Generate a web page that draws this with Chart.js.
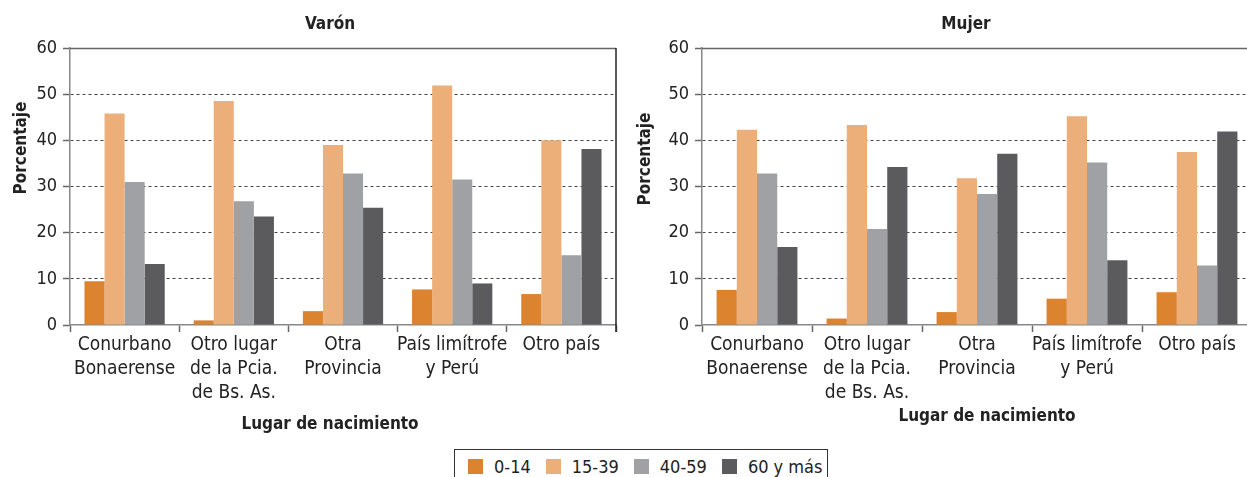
<!DOCTYPE html>
<html lang="es">
<head>
  <meta charset="UTF-8">
  <title>Lugar de nacimiento por edad</title>
  <script src="https://cdn.jsdelivr.net/npm/chart.js"></script>
  <style>
    html, body { margin: 0; padding: 0; background: #fff; overflow: hidden; width: 1247px; height: 477px; }
    #left { position: absolute; left: 0; top: 0; }
    #right { position: absolute; left: 620px; top: 0; }
    #legend {
      position: absolute; left: 454px; top: 449px; width: 374px; height: 34px;
      border: 1.5px solid #333; box-sizing: border-box;
      font-family: 'DejaVu Sans Condensed', sans-serif; font-size: 18px; color: #222;
      display: flex; align-items: center; padding-left: 13px; white-space: nowrap;
    }
    .item { display: flex; align-items: center; margin-right: 15px; flex-shrink: 0; }
    .sw { width: 15px; height: 15px; margin-right: 11px; flex-shrink: 0; }
  </style>
</head>
<body>
  <canvas id="left" width="640" height="440"></canvas>
  <canvas id="right" width="660" height="440"></canvas>
  <div id="legend"></div>

  <script>
    const categories = [
      ['Conurbano', 'Bonaerense'],
      ['Otro lugar', 'de la Pcia.', 'de Bs. As.'],
      ['Otra', 'Provincia'],
      ['País limítrofe', 'y Perú'],
      ['Otro país']
    ];
    const ageGroups = ['0-14', '15-39', '40-59', '60 y más'];
    const colors = ['#dc832f', '#ecaf79', '#a0a1a4', '#5b5b5d'];
    const yTicks = [0, 10, 20, 30, 40, 50, 60];

    // Varón
    const varon_0_14  = [9.5, 1.0, 3.0, 7.7, 6.7];
    const varon_15_39 = [45.8, 48.5, 39.0, 51.9, 40.0];
    const varon_40_59 = [31.0, 26.8, 32.8, 31.5, 15.1];
    const varon_60    = [13.2, 23.5, 25.4, 9.0, 38.1];

    // Mujer
    const mujer_0_14  = [7.6, 1.4, 2.8, 5.7, 7.1];
    const mujer_15_39 = [42.3, 43.3, 31.8, 45.2, 37.5];
    const mujer_40_59 = [32.8, 20.8, 28.4, 35.2, 12.9];
    const mujer_60    = [16.9, 34.2, 37.1, 14.0, 41.9];

    const narrow = "'DejaVu Sans Condensed', sans-serif";

    // titles and frame
    const decor = {
      id: 'decor',
      afterDraw(chart, args, o) {
        const ctx = chart.ctx;
        const a = chart.chartArea;
        ctx.save();
        ctx.strokeStyle = '#666';
        ctx.lineWidth = 1.5;
        ctx.beginPath();
        ctx.moveTo(a.left, a.top + 0.5);
        ctx.lineTo(a.right, a.top + 0.5);
        ctx.stroke();
        ctx.strokeStyle = '#222';
        ctx.beginPath();
        ctx.moveTo(a.right, a.top);
        ctx.lineTo(a.right, a.bottom + 7);
        ctx.stroke();

        ctx.fillStyle = '#222';
        ctx.font = 'bold 17px ' + narrow;
        ctx.textAlign = 'center';
        ctx.textBaseline = 'middle';
        ctx.fillText(o.title, o.titleX, 25);
        ctx.fillText('Lugar de nacimiento', o.xTitleX, o.xTitleY);
        ctx.translate(o.yTitleX, o.yTitleY);
        ctx.rotate(-Math.PI / 2);
        ctx.fillText('Porcentaje', 0, 0);
        ctx.restore();
      }
    };

    function makeChart(id, series, axisW, padRight, opts) {
      return new Chart(document.getElementById(id), {
        type: 'bar',
        data: {
          labels: categories,
          datasets: series.map((d, i) => ({
            label: ageGroups[i],
            data: d,
            backgroundColor: colors[i],
            borderWidth: 0,
            categoryPercentage: 0.735,
            barPercentage: 1
          }))
        },
        options: {
          responsive: false,
          animation: false,
          layout: { padding: { top: 48, left: 0, right: padRight, bottom: 0 } },
          plugins: { legend: { display: false }, tooltip: { enabled: false }, decor: opts },
          scales: {
            x: {
              afterFit: s => { s.height = 440 - 325; },
              grid: { offset: true, drawOnChartArea: false, tickLength: 7, tickColor: '#666', tickWidth: 1.5 },
              border: { color: '#888', width: 1.5 },
              ticks: {
                color: '#222', padding: 1,
                font: { family: narrow, size: 19, lineHeight: 1.263 },
                maxRotation: 0, autoSkip: false
              }
            },
            y: {
              min: 0, max: 60,
              afterFit: s => { s.width = axisW; },
              afterBuildTicks: s => { s.ticks = yTicks.map(v => ({ value: v })); },
              grid: {
                color: c => (c.tick && (c.tick.value === 0 || c.tick.value === 60)) ? 'rgba(0,0,0,0)' : '#444',
                tickColor: '#666', tickLength: 7, tickWidth: 1.5, lineWidth: 1
              },
              border: { color: '#888', width: 1.5, dash: [3, 3] },
              ticks: { color: '#222', padding: 6, font: { family: narrow, size: 18 } }
            }
          }
        },
        plugins: [decor]
      });
    }

    makeChart('left', [varon_0_14, varon_15_39, varon_40_59, varon_60], 70, 24,
      { title: 'Varón', titleX: 330, xTitleX: 330, xTitleY: 425, yTitleX: 22, yTitleY: 148 });
    makeChart('right', [mujer_0_14, mujer_15_39, mujer_40_59, mujer_60], 82, 28,
      { title: 'Mujer', titleX: 346, xTitleX: 367, xTitleY: 417, yTitleX: 26, yTitleY: 159 });

    const legend = document.getElementById('legend');
    ageGroups.forEach((g, i) => {
      const item = document.createElement('div');
      item.className = 'item';
      item.innerHTML = '<span class="sw" style="background:' + colors[i] + '"></span><span>' + g + '</span>';
      legend.appendChild(item);
    });
  </script>
</body>
</html>
